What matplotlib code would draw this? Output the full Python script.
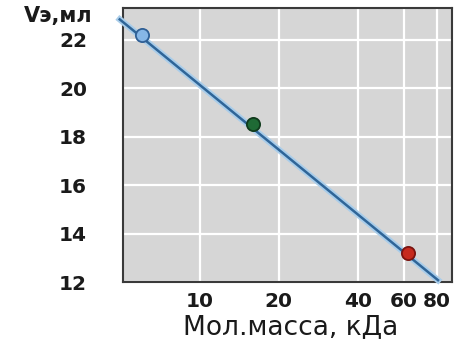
import matplotlib
matplotlib.use("Agg")
import matplotlib.pyplot as plt
import matplotlib.patheffects as pe

# Data
mass_kda = [6, 16, 62]
volume_ml = [22.2, 18.5, 13.2]
point_colors = ["#86b6e6", "#1f6a35", "#c62a1e"]
point_edges = ["#2f5f95", "#103a1c", "#7a1410"]
fit_x = [4.95, 81]
fit_y = [22.83, 12.08]
xticks = [10, 20, 40, 60, 80]
xtick_labels = ["10", "20", "40", "60", "80"]
yticks = [12, 14, 16, 18, 20, 22]

plt.rcParams['font.family'] = ['DejaVu Sans']

fig = plt.figure(figsize=(4.63, 3.47), dpi=100)
ax = fig.add_axes([0.266, 0.187, 0.71, 0.79])
ax.set_facecolor("#d6d6d6")
ax.set_xscale("log")
ax.set_xlim(5.1, 91.5)
ax.set_ylim(12, 23.3)

ax.set_xticks(xticks)
ax.set_xticklabels(xtick_labels)
ax.set_xticks([], minor=True)
ax.set_yticks(yticks)
ax.grid(True, color="white", linewidth=1.6)
ax.set_axisbelow(True)
ax.tick_params(axis="both", length=0, labelsize=14.5, colors="#1a1a1a")
ax.tick_params(axis="y", pad=26)
ax.tick_params(axis="x", pad=7)
for lbl in ax.get_xticklabels() + ax.get_yticklabels():
    lbl.set_fontweight("semibold")

for s in ax.spines.values():
    s.set_color("#3a3a3a")
    s.set_linewidth(1.5)

ax.plot(fit_x, fit_y, color="#2f6598", linewidth=1.8, clip_on=False, zorder=3,
        path_effects=[pe.Stroke(linewidth=4.5, foreground="#a9cdea"), pe.Normal()])
for x, y, c, e in zip(mass_kda, volume_ml, point_colors, point_edges):
    ax.plot([x], [y], marker="o", markersize=9.5, markerfacecolor=c,
            markeredgecolor=e, markeredgewidth=1.3, linestyle="none", zorder=4)

ax.set_xlabel("Мол.масса, кДа", fontsize=19, color="#1a1a1a")
ax.xaxis.set_label_coords(0.51, -0.165, transform=ax.transAxes)
ax.xaxis.label.set_va("center")
fig.text(0.125, 0.955, "Vэ,мл", fontsize=15, fontweight="semibold",
         color="#1a1a1a", ha="center", va="center")

fig.savefig("out.png", dpi=100, facecolor="white")
